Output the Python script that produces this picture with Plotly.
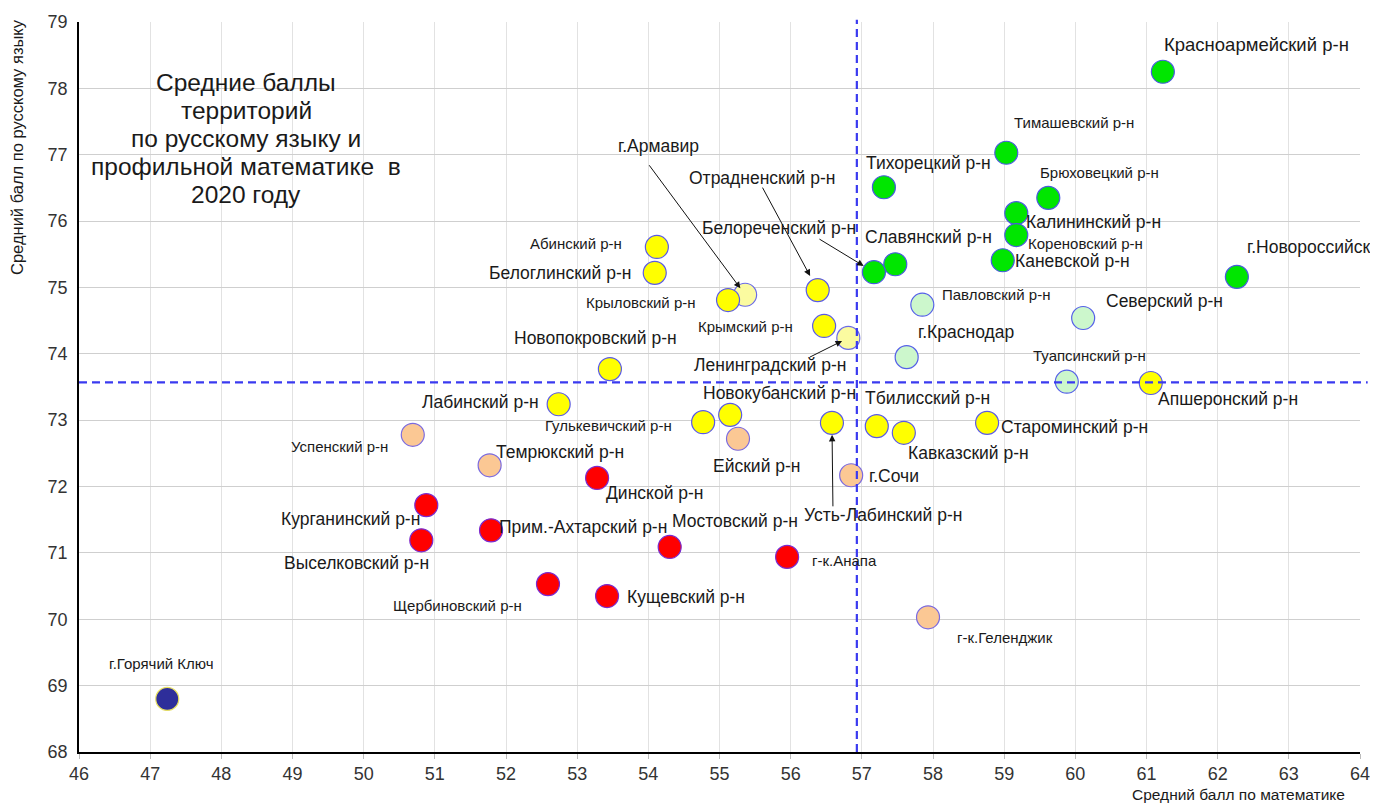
import plotly.graph_objects as go

# ---------------- data ----------------
names = [
    "г.Армавир", "Ленинградский р-н",
    "Красноармейский р-н", "Тимашевский р-н", "Тихорецкий р-н", "Брюховецкий р-н",
    "Калининский р-н", "Кореновский р-н", "Каневской р-н", "Славянский р-н",
    "Белореченский р-н", "г.Новороссийск", "Павловский р-н", "Северский р-н",
    "г.Краснодар", "Туапсинский р-н", "Апшеронский р-н", "Абинский р-н",
    "Белоглинский р-н", "Крыловский р-н", "Отрадненский р-н",
    "Крымский р-н", "Новопокровский р-н", "Лабинский р-н", "Гулькевичский р-н",
    "Новокубанский р-н", "Ейский р-н", "Усть-Лабинский р-н", "г.Сочи",
    "Тбилисский р-н", "Кавказский р-н", "Староминский р-н", "Успенский р-н",
    "Темрюкский р-н", "Динской р-н", "Курганинский р-н", "Выселковский р-н",
    "Прим.-Ахтарский р-н", "Мостовский р-н", "г-к.Анапа", "Щербиновский р-н",
    "Кущевский р-н", "г-к.Геленджик", "г.Горячий Ключ",
]
math_score = [
    55.36, 56.81,
    61.23, 59.03, 57.31, 59.62,
    59.17, 59.17, 58.98, 57.47,
    57.17, 62.27, 57.85, 60.11,
    57.63, 59.88, 61.06, 54.12,
    54.09, 55.12, 56.38,
    56.47, 53.46, 52.74, 54.77,
    55.15, 55.26, 56.58, 56.85,
    57.21, 57.59, 58.76, 50.69,
    51.77, 53.28, 50.88, 50.81,
    51.79, 54.30, 55.95, 52.59,
    53.42, 57.93, 47.24,
]
rus_score = [
    74.89, 74.24,
    78.25, 77.03, 76.51, 76.35,
    76.12, 75.79, 75.41, 75.35,
    75.23, 75.16, 74.74, 74.54,
    73.95, 73.58, 73.56, 75.61,
    75.22, 74.81, 74.96,
    74.42, 73.77, 73.24, 72.97,
    73.08, 72.72, 72.96, 72.17,
    72.91, 72.81, 72.96, 72.78,
    72.32, 72.13, 71.72, 71.19,
    71.34, 71.09, 70.94, 70.53,
    70.35, 70.03, 68.80,
]
groups = [
    "lightyellow", "lightyellow",
    "green", "green", "green", "green",
    "green", "green", "green", "green",
    "green", "green", "lightgreen", "lightgreen",
    "lightgreen", "lightgreen", "yellow", "yellow",
    "yellow", "yellow", "yellow",
    "yellow", "yellow", "yellow", "yellow",
    "yellow", "peach", "yellow", "peach",
    "yellow", "yellow", "yellow", "peach",
    "peach", "red", "red", "red",
    "red", "red", "red", "red",
    "red", "peach", "navy",
]
mean_math = 56.93
mean_rus = 73.57

x_ticks = list(range(46, 65))
y_ticks = list(range(68, 80))

title_lines = ["Средние баллы", "территорий", "по русскому языку и",
               "профильной математике  в", "2020 году"]
x_title = "Средний балл по математике"
y_title = "Средний балл по русскому языку"

# ---------------- styles ----------------
fill = {
    "green": "#00e600", "lightgreen": "#ccf7cc", "yellow": "#ffff00",
    "lightyellow": "#fbfba0", "peach": "#fbc894", "red": "#ff0000",
    "navy": "#2e2e9a",
}
edge = {
    "green": "#4a5ae0", "lightgreen": "#5560e8", "yellow": "#5a5ae8",
    "lightyellow": "#6a6ae8", "peach": "#7a6ae0", "red": "#7a2ad0",
    "navy": "#e8e060",
}

# label offsets in pixels (dx right, dy down) and font size
L, S = 17.5, 15
label_pos = {
    "Красноармейский р-н": (94, -27, 18.5),
    "Тимашевский р-н": (68, -30, S),
    "Тихорецкий р-н": (45, -24, L),
    "Брюховецкий р-н": (51, -25, S),
    "Калининский р-н": (77, 9, L),
    "Кореновский р-н": (69, 8, S),
    "Каневской р-н": (70, 1, L),
    "Славянский р-н": (33, -27, L),
    "Белореченский р-н": (-95, -44, L),
    "г.Новороссийск": (72, -30, L),
    "Павловский р-н": (74, -10, S),
    "Северский р-н": (81, -17, L),
    "г.Краснодар": (59, -25, L),
    "Туапсинский р-н": (23, -26, S),
    "Апшеронский р-н": (77, 16, L),
    "Абинский р-н": (-81, -3, S),
    "Белоглинский р-н": (-95, 0, L),
    "г.Армавир": (-87, -149, L),
    "Крыловский р-н": (-87, 2, S),
    "Отрадненский р-н": (-56, -112, L),
    "Ленинградский р-н": (-78, 27, L),
    "Крымский р-н": (-79, 1, S),
    "Новопокровский р-н": (-14, -31, L),
    "Лабинский р-н": (-78, -2, L),
    "Гулькевичский р-н": (-95, 3, S),
    "Новокубанский р-н": (49, -22, L),
    "Ейский р-н": (19, 27, L),
    "Усть-Лабинский р-н": (51, 92, L),
    "г.Сочи": (43, 1, L),
    "Тбилисский р-н": (51, -28, L),
    "Кавказский р-н": (65, 20, L),
    "Староминский р-н": (87, 4, L),
    "Успенский р-н": (-73, 12, S),
    "Темрюкский р-н": (70, -13, L),
    "Динской р-н": (58, 15, L),
    "Курганинский р-н": (-76, 14, L),
    "Выселковский р-н": (-65, 23, L),
    "Прим.-Ахтарский р-н": (92, -3, L),
    "Мостовский р-н": (65, -26, L),
    "г-к.Анапа": (57, 4, S),
    "Щербиновский р-н": (-90, 21, S),
    "Кущевский р-н": (79, 1, L),
    "г-к.Геленджик": (77, 20, S),
    "г.Горячий Ключ": (-6, -35, S),
}
# arrows: tail offset (ax, ay) in px from point, standoff
arrows = {
    "г.Армавир": (-97, -131, 8),
    "Отрадненский р-н": (-56, -104, 16),
    "Белореченский р-н": (-56, -34, 12),
    "Ленинградский р-н": (-40, 20, 7),
    "Усть-Лабинский р-н": (1, 85, 12),
}

FONT = "Liberation Sans, Arial, sans-serif"

# page body has an 8px margin, so the figure is 16px smaller than the window
FIG_W, FIG_H = 1362, 796
M = dict(l=71, r=10, t=14, b=52)
PLOT_H = FIG_H - M["t"] - M["b"]
PLOT_W = FIG_W - M["l"] - M["r"]


def paper_y(screen_y):
    return (FIG_H - M["b"] - (screen_y - 8)) / PLOT_H


def paper_x(screen_x):
    return (screen_x - 8 - M["l"]) / PLOT_W


fig = go.Figure()
fig.add_trace(go.Scatter(
    x=math_score, y=rus_score, mode="markers", text=names,
    marker=dict(size=23, color=[fill[g] for g in groups],
                line=dict(color=[edge[g] for g in groups], width=1.2)),
    hoverinfo="text", showlegend=False,
))

xmin, xmax = x_ticks[0], x_ticks[-1]
ymin, ymax = y_ticks[0], y_ticks[-1]
xp = (mean_math - xmin) / (xmax - xmin)
yp = (mean_rus - ymin) / (ymax - ymin)
dash_line = dict(color="#3a3af0", width=2.2, dash="8px,5px")
fig.add_shape(type="line", xref="paper", yref="paper", x0=xp, x1=xp, y0=0, y1=1.003,
              line=dash_line, layer="above")
fig.add_shape(type="line", xref="paper", yref="paper", x0=0, x1=1.006, y0=yp, y1=yp,
              line=dash_line, layer="above")

annotations = []
for n, xv, yv in zip(names, math_score, rus_score):
    dx, dy, fs = label_pos[n]
    annotations.append(dict(
        x=xv, y=yv, xref="x", yref="y", text=n, showarrow=False,
        xshift=dx, yshift=-dy, xanchor="center", yanchor="middle",
        font=dict(family=FONT, size=fs, color="#1a1a1a"),
    ))
    if n in arrows:
        ax, ay, so = arrows[n]
        annotations.append(dict(
            x=xv, y=yv, xref="x", yref="y", text="", showarrow=True,
            ax=ax, ay=ay, standoff=so, arrowhead=2, arrowsize=1.3,
            arrowwidth=1, arrowcolor="#111",
        ))

for i, line in enumerate(title_lines):
    annotations.append(dict(
        x=paper_x(246), y=paper_y(82 + i * 28.2), xref="paper", yref="paper",
        text=line, showarrow=False, xanchor="center", yanchor="middle",
        font=dict(family=FONT, size=24.5, color="#1a1a1a"),
    ))
annotations.append(dict(
    x=paper_x(17), y=paper_y(147), xref="paper", yref="paper", text=y_title,
    textangle=-90, showarrow=False, xanchor="center", yanchor="middle",
    font=dict(family=FONT, size=16.5, color="#1a1a1a"),
))
annotations.append(dict(
    x=paper_x(1238), y=paper_y(794), xref="paper", yref="paper", text=x_title,
    showarrow=False, xanchor="center", yanchor="middle",
    font=dict(family=FONT, size=15.5, color="#1a1a1a"),
))

fig.update_layout(
    width=FIG_W, height=FIG_H,
    margin=M,
    paper_bgcolor="white", plot_bgcolor="white",
    font=dict(family=FONT),
    annotations=annotations,
    xaxis=dict(range=[xmin, xmax], tickvals=x_ticks, showgrid=True,
               gridcolor="#e2e2e2", gridwidth=1, zeroline=False,
               showline=True, linecolor="#000", linewidth=1.5,
               ticks="outside", ticklen=5, tickcolor="#bbb",
               ticklabeloverflow="allow", automargin=False,
               tickfont=dict(family=FONT, size=18, color="#333")),
    yaxis=dict(range=[ymin, ymax], tickvals=y_ticks, showgrid=True,
               gridcolor="#cfcfcf", gridwidth=1, zeroline=False,
               showline=True, linecolor="#000", linewidth=1.5,
               ticks="", ticklabelstandoff=6, automargin=False,
               tickfont=dict(family=FONT, size=18, color="#333")),
)

fig.write_html("out.html")
